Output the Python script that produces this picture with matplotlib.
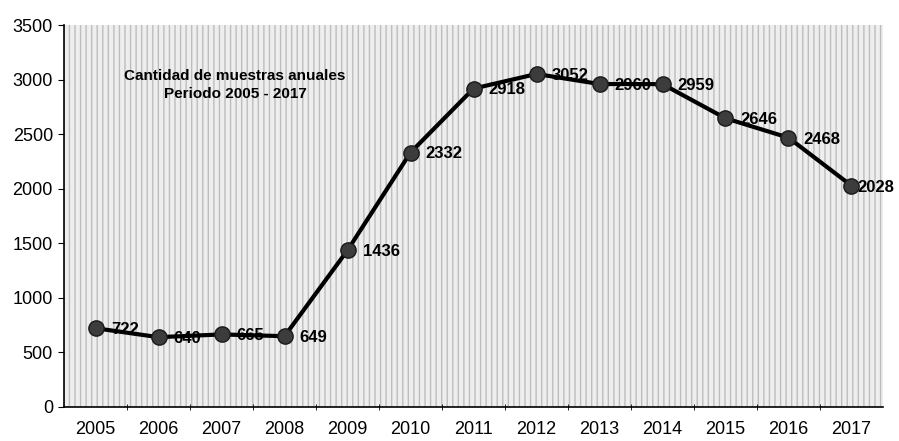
import matplotlib
matplotlib.use("Agg")
import matplotlib.pyplot as plt
from matplotlib.patches import Rectangle

# Data
years = ["2005", "2006", "2007", "2008", "2009", "2010", "2011",
         "2012", "2013", "2014", "2015", "2016", "2017"]
samples = [722, 640, 665, 649, 1436, 2332, 2918, 3052, 2960, 2959, 2646, 2468, 2028]
title_text = "Cantidad de muestras anuales\nPeriodo 2005 - 2017"

plt.rcParams["font.family"] = ["Liberation Sans", "DejaVu Sans"]

fig = plt.figure(figsize=(8.99, 4.41), dpi=100)
ax = fig.add_axes([0.0712, 0.0771, 0.911, 0.866])

x = list(range(len(years)))

# stippled grey background like the scanned original
ax.add_patch(Rectangle((0, 0), 1, 1, transform=ax.transAxes, facecolor="#eeeeee",
                       edgecolor="#bdbdbd", hatch="|||", linewidth=0, zorder=0))

ax.plot(x, samples, color="black", linewidth=3, zorder=3)
ax.plot(x, samples, linestyle="none", marker="o", markersize=11,
        markerfacecolor="#3c3c3c", markeredgecolor="#1a1a1a", zorder=4)

for xi, v in zip(x, samples):
    # last label sits tight against its marker so it stays inside the figure
    dx = 4 if xi == x[-1] else 11
    ax.annotate(str(v), (xi, v), xytext=(dx, -1), textcoords="offset points",
                ha="left", va="center", fontsize=12, fontweight="bold", zorder=5)

ax.text(0.209, 0.843, title_text, transform=ax.transAxes, ha="center", va="center",
        fontsize=11, fontweight="bold", linespacing=1.3)

ax.set_xlim(-0.5, 12.5)
ax.set_ylim(0, 3500)
ax.set_yticks(range(0, 3501, 500))
ax.set_xticks(x)
ax.set_xticklabels(years)
ax.tick_params(axis="y", labelsize=13, length=4, direction="out", pad=4)
ax.tick_params(axis="x", labelsize=13, pad=10, length=0)
ax.set_xticks([i + 0.5 for i in x[:-1]], minor=True)
ax.tick_params(axis="x", which="minor", length=4, direction="inout")

for side in ["top", "right"]:
    ax.spines[side].set_visible(False)
ax.spines["left"].set_linewidth(1.2)
ax.spines["bottom"].set_linewidth(1.2)

fig.savefig("out.png", dpi=100)
